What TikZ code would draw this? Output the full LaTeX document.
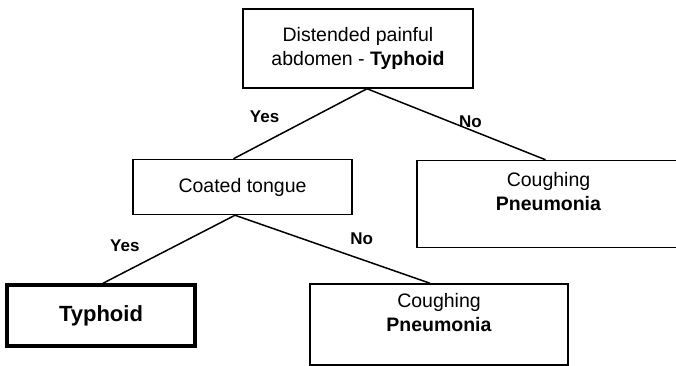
\documentclass[tikz,border=0pt]{standalone}
\usepackage{fontspec}
\setmainfont{Liberation Sans}
\usepackage{tikz}
\usetikzlibrary{positioning}

\begin{document}
\begin{tikzpicture}[
    x=1pt, y=-1pt,
    node distance=70pt,
    box/.style={rectangle, draw, line width=1.5pt, align=center, inner sep=0pt, font=\fontsize{19.5}{24}\selectfont},
    leaf/.style={box, text depth=#1},
    leaf/.default=24pt,
    final/.style={box, line width=4pt, font=\fontsize{22}{26}\selectfont\bfseries},
    edge/.style={line width=1.5pt},
    answer/.style={font=\fontsize{17}{20}\selectfont\bfseries}
]
\useasboundingbox (0,0) rectangle (676,366);

% Questions
\node[box, minimum width=230pt, minimum height=79pt] (abdomen) at (358,48.5) {Distended painful\\abdomen - \textbf{Typhoid}};
\node[box, below=70pt of abdomen, xshift=-115.5pt, minimum width=219pt, minimum height=55pt] (tongue) {Coated tongue};

% Outcomes
\node[leaf=26pt, below=71pt of abdomen, xshift=190.5pt, minimum width=263pt, minimum height=87pt] (cough1) {Coughing\\\textbf{Pneumonia}};
\node[final, below=68pt of tongue, xshift=-141.5pt, minimum width=188pt, minimum height=61pt] (typhoid) {Typhoid};
\node[leaf, below=68pt of tongue, xshift=196.5pt, minimum width=258pt, minimum height=81pt] (cough2) {Coughing\\\textbf{Pneumonia}};

% Branches
\draw[edge] ([xshift=9pt]abdomen.south) -- node[pos=0.6, above left=5pt, answer] {Yes} ([xshift=-9pt]tongue.north);
\draw[edge] ([xshift=9pt]abdomen.south) -- node[pos=0.58, above, answer, inner sep=2pt] {No} ([xshift=-3pt]cough1.north);
\draw[edge] ([xshift=-7.5pt]tongue.south) -- node[pos=0.66, above left=6pt, answer] {Yes} ([xshift=2pt]typhoid.north);
\draw[edge] ([xshift=-7.5pt]tongue.south) -- node[pos=0.65, above=11pt, answer] {No} ([xshift=-9pt]cough2.north);

\end{tikzpicture}
\end{document}
